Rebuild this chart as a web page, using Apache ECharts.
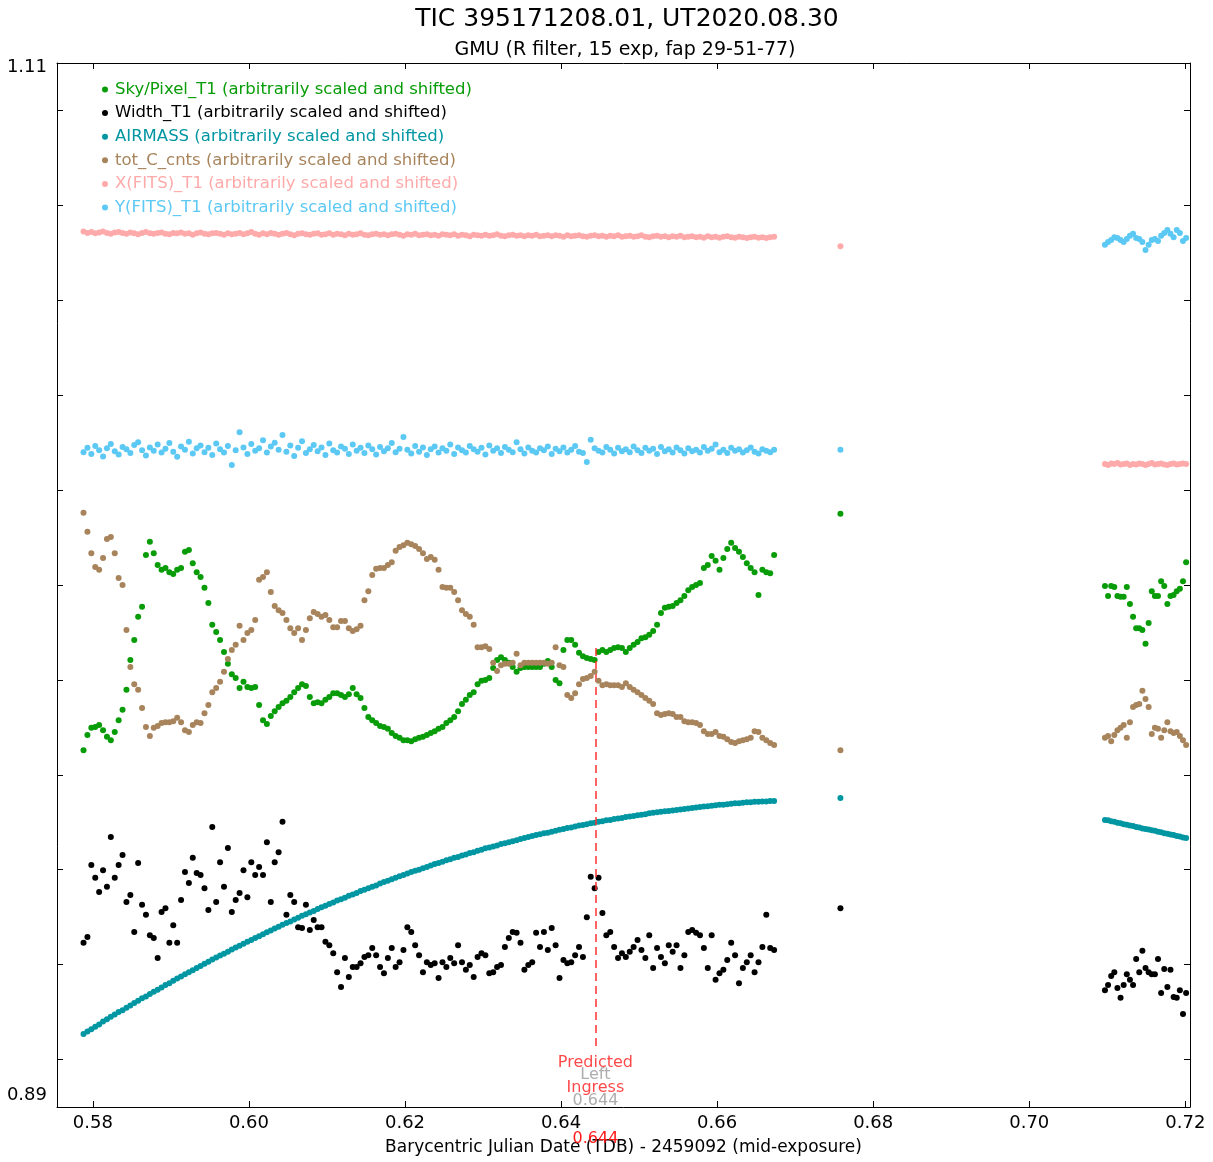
<!DOCTYPE html>
<html>
<head>
<meta charset="utf-8">
<script src="https://cdn.jsdelivr.net/npm/echarts@6.0.0/dist/echarts.min.js"></script>
<style>
html,body{margin:0;padding:0;background:#fff;}
#chart{width:1213px;height:1162px;}
</style>
</head>
<body>
<div id="chart"></div>
<script>
// ---- data (BJD_TDB - 2459092, relative values) ----
const times = [
0.5788,0.5793,0.5798,0.5803,0.5808,0.5813,0.5818,0.5823,0.5828,0.5833,
0.5838,0.5843,0.5848,0.5853,0.5858,0.5863,0.5868,0.5873,0.5878,0.5883,
0.5888,0.5893,0.5898,0.5903,0.5908,0.5913,0.5918,0.5923,0.5928,0.5933,
0.5938,0.5943,0.5948,0.5953,0.5958,0.5963,0.5968,0.5973,0.5978,0.5983,
0.5988,0.5993,0.5998,0.6003,0.6008,0.6013,0.6018,0.6023,0.6028,0.6033,
0.6038,0.6043,0.6048,0.6053,0.6058,0.6063,0.6068,0.6073,0.6078,0.6083,
0.6088,0.6093,0.6098,0.6103,0.6108,0.6113,0.6118,0.6123,0.6128,0.6133,
0.6138,0.6143,0.6148,0.6153,0.6158,0.6163,0.6168,0.6173,0.6178,0.6183,
0.6188,0.6193,0.6198,0.6203,0.6208,0.6213,0.6218,0.6223,0.6228,0.6233,
0.6238,0.6243,0.6248,0.6253,0.6258,0.6263,0.6268,0.6273,0.6278,0.6283,
0.6288,0.6293,0.6298,0.6303,0.6308,0.6313,0.6318,0.6323,0.6328,0.6333,
0.6338,0.6343,0.6348,0.6353,0.6358,0.6363,0.6368,0.6373,0.6378,0.6383,
0.6388,0.6393,0.6398,0.6403,0.6408,0.6413,0.6418,0.6423,0.6428,0.6433,
0.6438,0.6443,0.6448,0.6453,0.6458,0.6463,0.6468,0.6473,0.6478,0.6483,
0.6488,0.6493,0.6498,0.6503,0.6508,0.6513,0.6518,0.6523,0.6528,0.6533,
0.6538,0.6543,0.6548,0.6553,0.6558,0.6563,0.6568,0.6573,0.6578,0.6583,
0.6588,0.6593,0.6598,0.6603,0.6608,0.6613,0.6618,0.6623,0.6628,0.6633,
0.6638,0.6643,0.6648,0.6653,0.6658,0.6663,0.6668,0.6673,
0.6758,
0.7097,0.7101,0.7105,0.7109,0.7113,0.7117,0.7121,0.7125,0.7129,0.7133,0.7137,0.7141,0.7145,0.7149,
0.7153,0.7157,0.7161,0.7165,0.7169,0.7173,0.7177,0.7181,0.7185,0.7189,0.7193,0.7197,0.7201
];

const skyPixel = [
0.9652,0.9684,0.9699,0.9701,0.9705,0.9694,0.9680,0.9673,0.9690,0.9715,
0.9737,0.9779,0.9842,0.9884,0.9933,0.9954,1.0063,1.0091,1.0067,1.0042,
1.0032,1.0036,1.0027,1.0023,1.0032,1.0036,1.0070,1.0074,1.0046,1.0027,
1.0017,0.9994,0.9962,0.9916,0.9901,0.9884,0.9859,0.9834,0.9812,0.9804,
0.9783,0.9796,0.9785,0.9783,0.9785,0.9747,0.9715,0.9707,0.9724,0.9734,
0.9743,0.9751,0.9756,0.9764,0.9774,0.9783,0.9791,0.9787,0.9764,0.9751,
0.9753,0.9751,0.9758,0.9764,0.9772,0.9772,0.9768,0.9764,0.9770,0.9783,
0.9770,0.9762,0.9741,0.9722,0.9715,0.9709,0.9703,0.9701,0.9697,0.9688,
0.9682,0.9678,0.9673,0.9673,0.9671,0.9675,0.9678,0.9680,0.9684,0.9688,
0.9692,0.9697,0.9701,0.9709,0.9715,0.9722,0.9734,0.9749,0.9758,0.9768,
0.9774,0.9791,0.9798,0.9800,0.9804,0.9825,0.9842,0.9848,0.9842,0.9836,
0.9827,0.9817,0.9825,0.9827,0.9827,0.9827,0.9827,0.9827,0.9834,0.9840,
0.9827,0.9800,0.9793,0.9863,0.9884,0.9884,0.9874,0.9857,0.9850,0.9846,
0.9844,0.9842,0.9859,0.9863,0.9859,0.9863,0.9867,0.9869,0.9867,0.9859,
0.9867,0.9874,0.9880,0.9888,0.9890,0.9895,0.9903,0.9916,0.9941,0.9952,
0.9954,0.9956,0.9962,0.9968,0.9977,0.9989,0.9996,1.0000,1.0004,1.0036,
1.0042,1.0061,1.0051,1.0032,1.0057,1.0076,1.0089,1.0078,1.0070,1.0059,
1.0046,1.0036,1.0027,0.9979,1.0032,1.0027,1.0025,1.0063,
1.0150,
0.9998,0.9977,0.9998,0.9996,0.9977,0.9975,0.9975,0.9996,0.9960,0.9933,0.9909,0.9909,0.9905,0.9876,
0.9920,0.9987,0.9977,0.9977,1.0008,0.9998,0.9960,0.9977,0.9979,0.9987,0.9992,1.0008,1.0048
];

const widthT1 = [
0.9246,0.9258,0.9410,0.9383,0.9353,0.9399,0.9364,0.9469,0.9383,0.9410,
0.9431,0.9332,0.9347,0.9269,0.9414,0.9326,0.9305,0.9262,0.9256,0.9214,
0.9311,0.9319,0.9246,0.9283,0.9246,0.9336,0.9395,0.9372,0.9425,0.9393,
0.9389,0.9361,0.9315,0.9490,0.9332,0.9416,0.9364,0.9446,0.9311,0.9336,
0.9351,0.9399,0.9342,0.9416,0.9389,0.9406,0.9389,0.9458,0.9332,0.9416,
0.9437,0.9501,0.9305,0.9347,0.9332,0.9279,0.9277,0.9326,0.9273,0.9294,
0.9279,0.9279,0.9248,0.9241,0.9224,0.9184,0.9153,0.9214,0.9174,0.9195,
0.9195,0.9203,0.9216,0.9220,0.9235,0.9220,0.9195,0.9182,0.9214,0.9235,
0.9195,0.9205,0.9231,0.9279,0.9269,0.9241,0.9220,0.9184,0.9205,0.9199,
0.9203,0.9172,0.9205,0.9195,0.9214,0.9203,0.9241,0.9205,0.9189,0.9199,
0.9174,0.9216,0.9224,0.9220,0.9182,0.9184,0.9195,0.9199,0.9237,0.9256,
0.9269,0.9267,0.9246,0.9189,0.9199,0.9205,0.9267,0.9237,0.9269,0.9231,
0.9277,0.9241,0.9172,0.9210,0.9203,0.9205,0.9220,0.9237,0.9216,0.9300,
0.9385,0.9361,0.9383,0.9309,0.9262,0.9269,0.9237,0.9214,0.9224,0.9216,
0.9227,0.9237,0.9252,0.9231,0.9214,0.9262,0.9193,0.9235,0.9216,0.9203,
0.9241,0.9227,0.9241,0.9193,0.9220,0.9269,0.9273,0.9267,0.9262,0.9235,
0.9193,0.9262,0.9168,0.9182,0.9189,0.9210,0.9246,0.9220,0.9161,0.9193,
0.9205,0.9220,0.9184,0.9205,0.9237,0.9305,0.9235,0.9231,
0.9319,
0.9146,0.9157,0.9176,0.9184,0.9151,0.9130,0.9157,0.9180,0.9168,0.9157,0.9212,0.9184,0.9229,0.9193,
0.9184,0.9180,0.9180,0.9212,0.9140,0.9191,0.9153,0.9189,0.9132,0.9130,0.9146,0.9096,0.9140
];

const airmass = [
0.9054,0.9059,0.9064,0.9069,0.9074,0.9080,0.9085,0.9090,0.9095,0.9100,
0.9104,0.9109,0.9114,0.9119,0.9124,0.9129,0.9133,0.9138,0.9143,0.9147,
0.9152,0.9157,0.9161,0.9166,0.9171,0.9175,0.9180,0.9184,0.9188,0.9193,
0.9197,0.9202,0.9206,0.9211,0.9215,0.9219,0.9223,0.9227,0.9232,0.9236,
0.9240,0.9244,0.9248,0.9252,0.9256,0.9260,0.9264,0.9268,0.9272,0.9276,
0.9280,0.9284,0.9288,0.9291,0.9295,0.9299,0.9303,0.9306,0.9310,0.9313,
0.9317,0.9321,0.9324,0.9328,0.9331,0.9335,0.9338,0.9341,0.9345,0.9348,
0.9351,0.9355,0.9358,0.9361,0.9364,0.9367,0.9371,0.9374,0.9377,0.9380,
0.9383,0.9386,0.9389,0.9392,0.9395,0.9398,0.9400,0.9403,0.9406,0.9409,
0.9412,0.9414,0.9417,0.9420,0.9422,0.9425,0.9427,0.9430,0.9432,0.9435,
0.9437,0.9440,0.9442,0.9445,0.9447,0.9449,0.9451,0.9454,0.9456,0.9458,
0.9460,0.9462,0.9465,0.9467,0.9469,0.9471,0.9473,0.9475,0.9477,0.9478,
0.9480,0.9482,0.9484,0.9486,0.9488,0.9489,0.9491,0.9493,0.9494,0.9496,
0.9498,0.9499,0.9501,0.9502,0.9504,0.9505,0.9507,0.9508,0.9509,0.9511,
0.9512,0.9513,0.9515,0.9516,0.9517,0.9519,0.9520,0.9521,0.9522,0.9523,
0.9524,0.9525,0.9526,0.9527,0.9528,0.9529,0.9530,0.9531,0.9532,0.9533,
0.9534,0.9535,0.9536,0.9537,0.9537,0.9538,0.9539,0.9540,0.9540,0.9541,
0.9542,0.9542,0.9543,0.9543,0.9544,0.9544,0.9545,0.9545,
0.9551,
0.9505,0.9504,0.9502,0.9501,0.9499,0.9498,0.9496,0.9495,0.9493,0.9492,0.9490,0.9489,0.9487,0.9486,
0.9485,0.9483,0.9482,0.9480,0.9479,0.9477,0.9476,0.9474,0.9473,0.9471,0.9470,0.9468,0.9467
];

const totCnts = [
1.0152,1.0112,1.0067,1.0038,1.0032,1.0057,1.0097,1.0101,1.0067,1.0015,
1.0000,0.9905,0.9827,0.9791,0.9779,0.9741,0.9701,0.9682,0.9699,0.9703,
0.9709,0.9711,0.9711,0.9713,0.9720,0.9711,0.9694,0.9690,0.9705,0.9711,
0.9709,0.9730,0.9747,0.9774,0.9783,0.9796,0.9817,0.9844,0.9863,0.9874,
0.9914,0.9884,0.9899,0.9905,0.9926,1.0011,1.0017,1.0027,0.9985,0.9956,
0.9947,0.9941,0.9926,0.9909,0.9899,0.9909,0.9884,0.9905,0.9930,0.9943,
0.9939,0.9933,0.9937,0.9926,0.9911,0.9911,0.9924,0.9924,0.9909,0.9903,
0.9907,0.9914,0.9968,0.9987,1.0021,1.0034,1.0036,1.0036,1.0042,1.0048,
1.0072,1.0080,1.0084,1.0089,1.0086,1.0082,1.0076,1.0067,1.0055,1.0059,
1.0053,1.0032,0.9996,0.9994,0.9994,0.9985,0.9968,0.9947,0.9939,0.9933,
0.9916,0.9869,0.9869,0.9871,0.9865,0.9836,0.9819,0.9831,0.9834,0.9834,
0.9836,0.9855,0.9831,0.9836,0.9836,0.9836,0.9836,0.9836,0.9836,0.9834,
0.9836,0.9869,0.9831,0.9827,0.9768,0.9762,0.9772,0.9791,0.9802,0.9804,
0.9808,0.9817,0.9798,0.9789,0.9791,0.9789,0.9789,0.9789,0.9785,0.9793,
0.9785,0.9779,0.9774,0.9768,0.9762,0.9756,0.9749,0.9730,0.9726,0.9728,
0.9730,0.9728,0.9722,0.9722,0.9713,0.9711,0.9711,0.9709,0.9705,0.9692,
0.9686,0.9686,0.9690,0.9682,0.9680,0.9675,0.9669,0.9667,0.9671,0.9673,
0.9675,0.9678,0.9692,0.9690,0.9678,0.9673,0.9667,0.9663,
0.9652,
0.9678,0.9682,0.9671,0.9684,0.9694,0.9699,0.9705,0.9678,0.9711,0.9743,0.9747,0.9749,0.9777,0.9760,
0.9743,0.9686,0.9699,0.9697,0.9678,0.9694,0.9711,0.9692,0.9688,0.9690,0.9682,0.9673,0.9663
];

const xFits = [
1.0745,1.0742,1.0744,1.0741,1.0743,1.0745,1.0742,1.0740,1.0743,1.0744,
1.0742,1.0740,1.0743,1.0741,1.0739,1.0742,1.0744,1.0741,1.0740,1.0742,
1.0743,1.0740,1.0739,1.0742,1.0741,1.0743,1.0740,1.0741,1.0738,1.0741,
1.0743,1.0740,1.0739,1.0741,1.0742,1.0740,1.0738,1.0741,1.0739,1.0740,
1.0742,1.0739,1.0741,1.0744,1.0740,1.0738,1.0741,1.0739,1.0742,1.0740,
1.0738,1.0740,1.0742,1.0739,1.0737,1.0740,1.0741,1.0739,1.0738,1.0740,
1.0741,1.0738,1.0739,1.0741,1.0738,1.0740,1.0739,1.0737,1.0740,1.0738,
1.0739,1.0741,1.0738,1.0737,1.0739,1.0740,1.0738,1.0739,1.0737,1.0739,
1.0740,1.0738,1.0736,1.0739,1.0738,1.0740,1.0737,1.0738,1.0739,1.0737,
1.0738,1.0736,1.0739,1.0738,1.0737,1.0739,1.0736,1.0738,1.0737,1.0735,
1.0738,1.0737,1.0736,1.0738,1.0736,1.0737,1.0739,1.0736,1.0735,1.0737,
1.0738,1.0736,1.0737,1.0735,1.0737,1.0736,1.0738,1.0735,1.0736,1.0737,
1.0735,1.0737,1.0736,1.0734,1.0737,1.0735,1.0736,1.0737,1.0735,1.0734,
1.0736,1.0737,1.0735,1.0736,1.0734,1.0736,1.0735,1.0737,1.0734,1.0735,
1.0736,1.0734,1.0735,1.0737,1.0734,1.0733,1.0735,1.0736,1.0734,1.0735,
1.0733,1.0735,1.0734,1.0736,1.0733,1.0734,1.0735,1.0733,1.0734,1.0732,
1.0735,1.0733,1.0734,1.0732,1.0734,1.0735,1.0733,1.0732,1.0734,1.0733,
1.0731,1.0733,1.0734,1.0732,1.0733,1.0731,1.0733,1.0734,
1.0714,
1.0255,1.0253,1.0256,1.0255,1.0257,1.0254,1.0255,1.0256,1.0253,1.0255,1.0254,1.0256,1.0255,1.0253,
1.0255,1.0257,1.0254,1.0255,1.0256,1.0254,1.0253,1.0255,1.0256,1.0254,1.0255,1.0256,1.0255
];

const yFits = [
1.0280,1.0289,1.0276,1.0293,1.0284,1.0271,1.0288,1.0297,1.0282,1.0275,
1.0291,1.0286,1.0278,1.0295,1.0301,1.0284,1.0273,1.0290,1.0283,1.0296,
1.0279,1.0287,1.0299,1.0281,1.0270,1.0292,1.0285,1.0302,1.0277,1.0288,
1.0294,1.0280,1.0289,1.0274,1.0298,1.0286,1.0279,1.0293,1.0253,1.0284,
1.0322,1.0290,1.0276,1.0297,1.0283,1.0288,1.0305,1.0279,1.0292,1.0300,
1.0285,1.0316,1.0281,1.0294,1.0272,1.0289,1.0303,1.0278,1.0286,1.0295,
1.0282,1.0290,1.0274,1.0298,1.0284,1.0279,1.0292,1.0287,1.0276,1.0296,
1.0283,1.0289,1.0278,1.0294,1.0286,1.0275,1.0291,1.0282,1.0288,1.0299,
1.0280,1.0287,1.0312,1.0285,1.0277,1.0293,1.0281,1.0290,1.0274,1.0286,
1.0292,1.0279,1.0288,1.0283,1.0296,1.0276,1.0290,1.0284,1.0279,1.0293,
1.0286,1.0281,1.0289,1.0275,1.0294,1.0283,1.0288,1.0278,1.0291,1.0285,
1.0280,1.0301,1.0286,1.0277,1.0290,1.0283,1.0279,1.0288,1.0284,1.0292,
1.0276,1.0287,1.0282,1.0290,1.0279,1.0285,1.0293,1.0281,1.0278,1.0259,
1.0306,1.0288,1.0283,1.0279,1.0291,1.0285,1.0277,1.0289,1.0282,1.0286,
1.0280,1.0292,1.0284,1.0278,1.0289,1.0283,1.0287,1.0276,1.0291,1.0282,
1.0286,1.0279,1.0290,1.0284,1.0277,1.0288,1.0282,1.0285,1.0279,1.0291,
1.0283,1.0287,1.0296,1.0280,1.0285,1.0278,1.0289,1.0283,1.0286,1.0279,
1.0284,1.0290,1.0281,1.0277,1.0286,1.0283,1.0280,1.0285,
1.0285,
1.0717,1.0723,1.0727,1.0733,1.0731,1.0727,1.0723,1.0729,1.0736,1.0740,1.0731,1.0729,1.0723,1.0706,
1.0717,1.0727,1.0729,1.0725,1.0736,1.0742,1.0748,1.0740,1.0733,1.0748,1.0742,1.0725,1.0731
];

const seriesNames = [
  'Sky/Pixel_T1 (arbitrarily scaled and shifted)',
  'Width_T1 (arbitrarily scaled and shifted)',
  'AIRMASS (arbitrarily scaled and shifted)',
  'tot_C_cnts (arbitrarily scaled and shifted)',
  'X(FITS)_T1 (arbitrarily scaled and shifted)',
  'Y(FITS)_T1 (arbitrarily scaled and shifted)'
];
const seriesColors = ['#089c08', '#000000', '#0096a2', '#a8845c', '#ffaaaa', '#5cc8f4'];
const seriesValues = [skyPixel, widthT1, airmass, totCnts, xFits, yFits];

const xTicks = [0.58, 0.60, 0.62, 0.64, 0.66, 0.68, 0.70, 0.72];
const yTicks = [0.90, 0.92, 0.94, 0.96, 0.98, 1.00, 1.02, 1.04, 1.06, 1.08, 1.10];
const xRange = [0.5754, 0.7206];
const yRange = [0.89, 1.11];

const ingressTime = 0.6444;
const ingressLine = [0.9867, 0.9024];
const ingressTexts = [
  {text: 'Predicted', y: 0.8992, color: '#ff1a1a'},
  {text: 'Left', y: 0.8967, color: '#999999'},
  {text: 'Ingress', y: 0.8941, color: '#ff1a1a'},
  {text: '0.644', y: 0.8913, color: '#999999'}
];

const FONT = 'DejaVu Sans';

const chart = echarts.init(document.getElementById('chart'), null, {renderer: 'canvas'});

const series = seriesValues.map((vals, k) => ({
  name: seriesNames[k],
  type: 'scatter',
  symbol: 'circle',
  symbolSize: 6,
  itemStyle: {color: seriesColors[k], opacity: 1},
  data: vals.map((v, i) => [times[i], v]),
  z: 2 + k,
  silent: true
}));

series.push({
  name: 'ingress',
  type: 'scatter',
  symbolSize: 1,
  itemStyle: {color: 'rgba(0,0,0,0)'},
  silent: true,
  z: 20,
  data: ingressTexts.map(t => ({
    value: [ingressTime, t.y],
    label: {show: true, position: 'inside', formatter: t.text, color: t.color,
            fontSize: 16, fontFamily: FONT}
  })),
  markLine: {
    silent: true,
    symbol: 'none',
    label: {show: false},
    lineStyle: {color: '#ff3030', width: 1.5, type: [8, 5]},
    data: [[{coord: [ingressTime, ingressLine[0]]}, {coord: [ingressTime, ingressLine[1]]}]]
  }
});

const baseX = {
  type: 'value', min: xRange[0], max: xRange[1],
  splitLine: {show: false},
  axisLine: {show: true, onZero: false, lineStyle: {color: '#000', width: 1}},
  axisTick: {show: true, inside: true, length: 6, customValues: xTicks, lineStyle: {color: '#000'}}
};
const baseY = {
  type: 'value', min: yRange[0], max: yRange[1],
  splitLine: {show: false},
  axisLine: {show: true, onZero: false, lineStyle: {color: '#000', width: 1}},
  axisTick: {show: true, inside: true, length: 6, customValues: yTicks, lineStyle: {color: '#000'}}
};

chart.setOption({
  animation: false,
  backgroundColor: '#ffffff',
  title: [
    {text: 'TIC 395171208.01, UT2020.08.30', left: 622, top: 2, textAlign: 'center',
     textStyle: {fontFamily: FONT, fontSize: 25, fontWeight: 'normal', color: '#000'}},
    {text: 'GMU (R filter, 15 exp, fap 29-51-77)', left: 620, top: 36, textAlign: 'center',
     textStyle: {fontFamily: FONT, fontSize: 19, fontWeight: 'normal', color: '#000'}}
  ],
  legend: {
    orient: 'vertical', left: 97, top: 75,
    icon: 'circle', itemWidth: 6, itemHeight: 6, itemGap: 4.6,
    selectedMode: false,
    textStyle: {fontFamily: FONT, fontSize: 16.5, lineHeight: 19, padding: [0, 0, 0, 2]},
    data: seriesNames.map((n, k) => ({name: n, itemStyle: {color: seriesColors[k]},
      textStyle: {color: seriesColors[k], fontFamily: FONT, fontSize: 16.5}}))
  },
  grid: {left: 57, right: 23, top: 63, bottom: 55, containLabel: false},
  xAxis: [
    Object.assign({}, baseX, {
      position: 'bottom',
      name: 'Barycentric Julian Date (TDB) - 2459092 (mid-exposure)',
      nameLocation: 'middle', nameGap: 32,
      nameTextStyle: {fontFamily: FONT, fontSize: 17, color: '#000'},
      axisLabel: {show: true, customValues: xTicks, margin: 7, fontFamily: FONT, fontSize: 18, color: '#000',
                  formatter: v => v.toFixed(2)}
    }),
    Object.assign({}, baseX, {
      position: 'top',
      axisLabel: {show: false}
    }),
    {
      type: 'value', min: xRange[0], max: xRange[1], position: 'bottom',
      splitLine: {show: false}, axisLine: {show: false}, axisTick: {show: false},
      axisLabel: {show: true, customValues: [ingressTime], margin: 24, fontFamily: FONT, fontSize: 16,
                  color: '#ff1a1a', formatter: v => v.toFixed(3)}
    }
  ],
  yAxis: [
    Object.assign({}, baseY, {
      position: 'left',
      axisLabel: {show: true, customValues: [yRange[1]], margin: 10, fontFamily: FONT, fontSize: 18,
                  color: '#000', verticalAlign: 'top', lineHeight: 8, formatter: v => v.toFixed(2)}
    }),
    {
      type: 'value', min: yRange[0], max: yRange[1], position: 'left',
      splitLine: {show: false}, axisLine: {show: false}, axisTick: {show: false},
      axisLabel: {show: true, customValues: [yRange[0]], margin: 10, fontFamily: FONT, fontSize: 18,
                  color: '#000', verticalAlign: 'bottom', lineHeight: 24, formatter: v => v.toFixed(2)}
    },
    Object.assign({}, baseY, {
      position: 'right',
      axisLabel: {show: false}
    })
  ],
  series: series
});
</script>
</body>
</html>
